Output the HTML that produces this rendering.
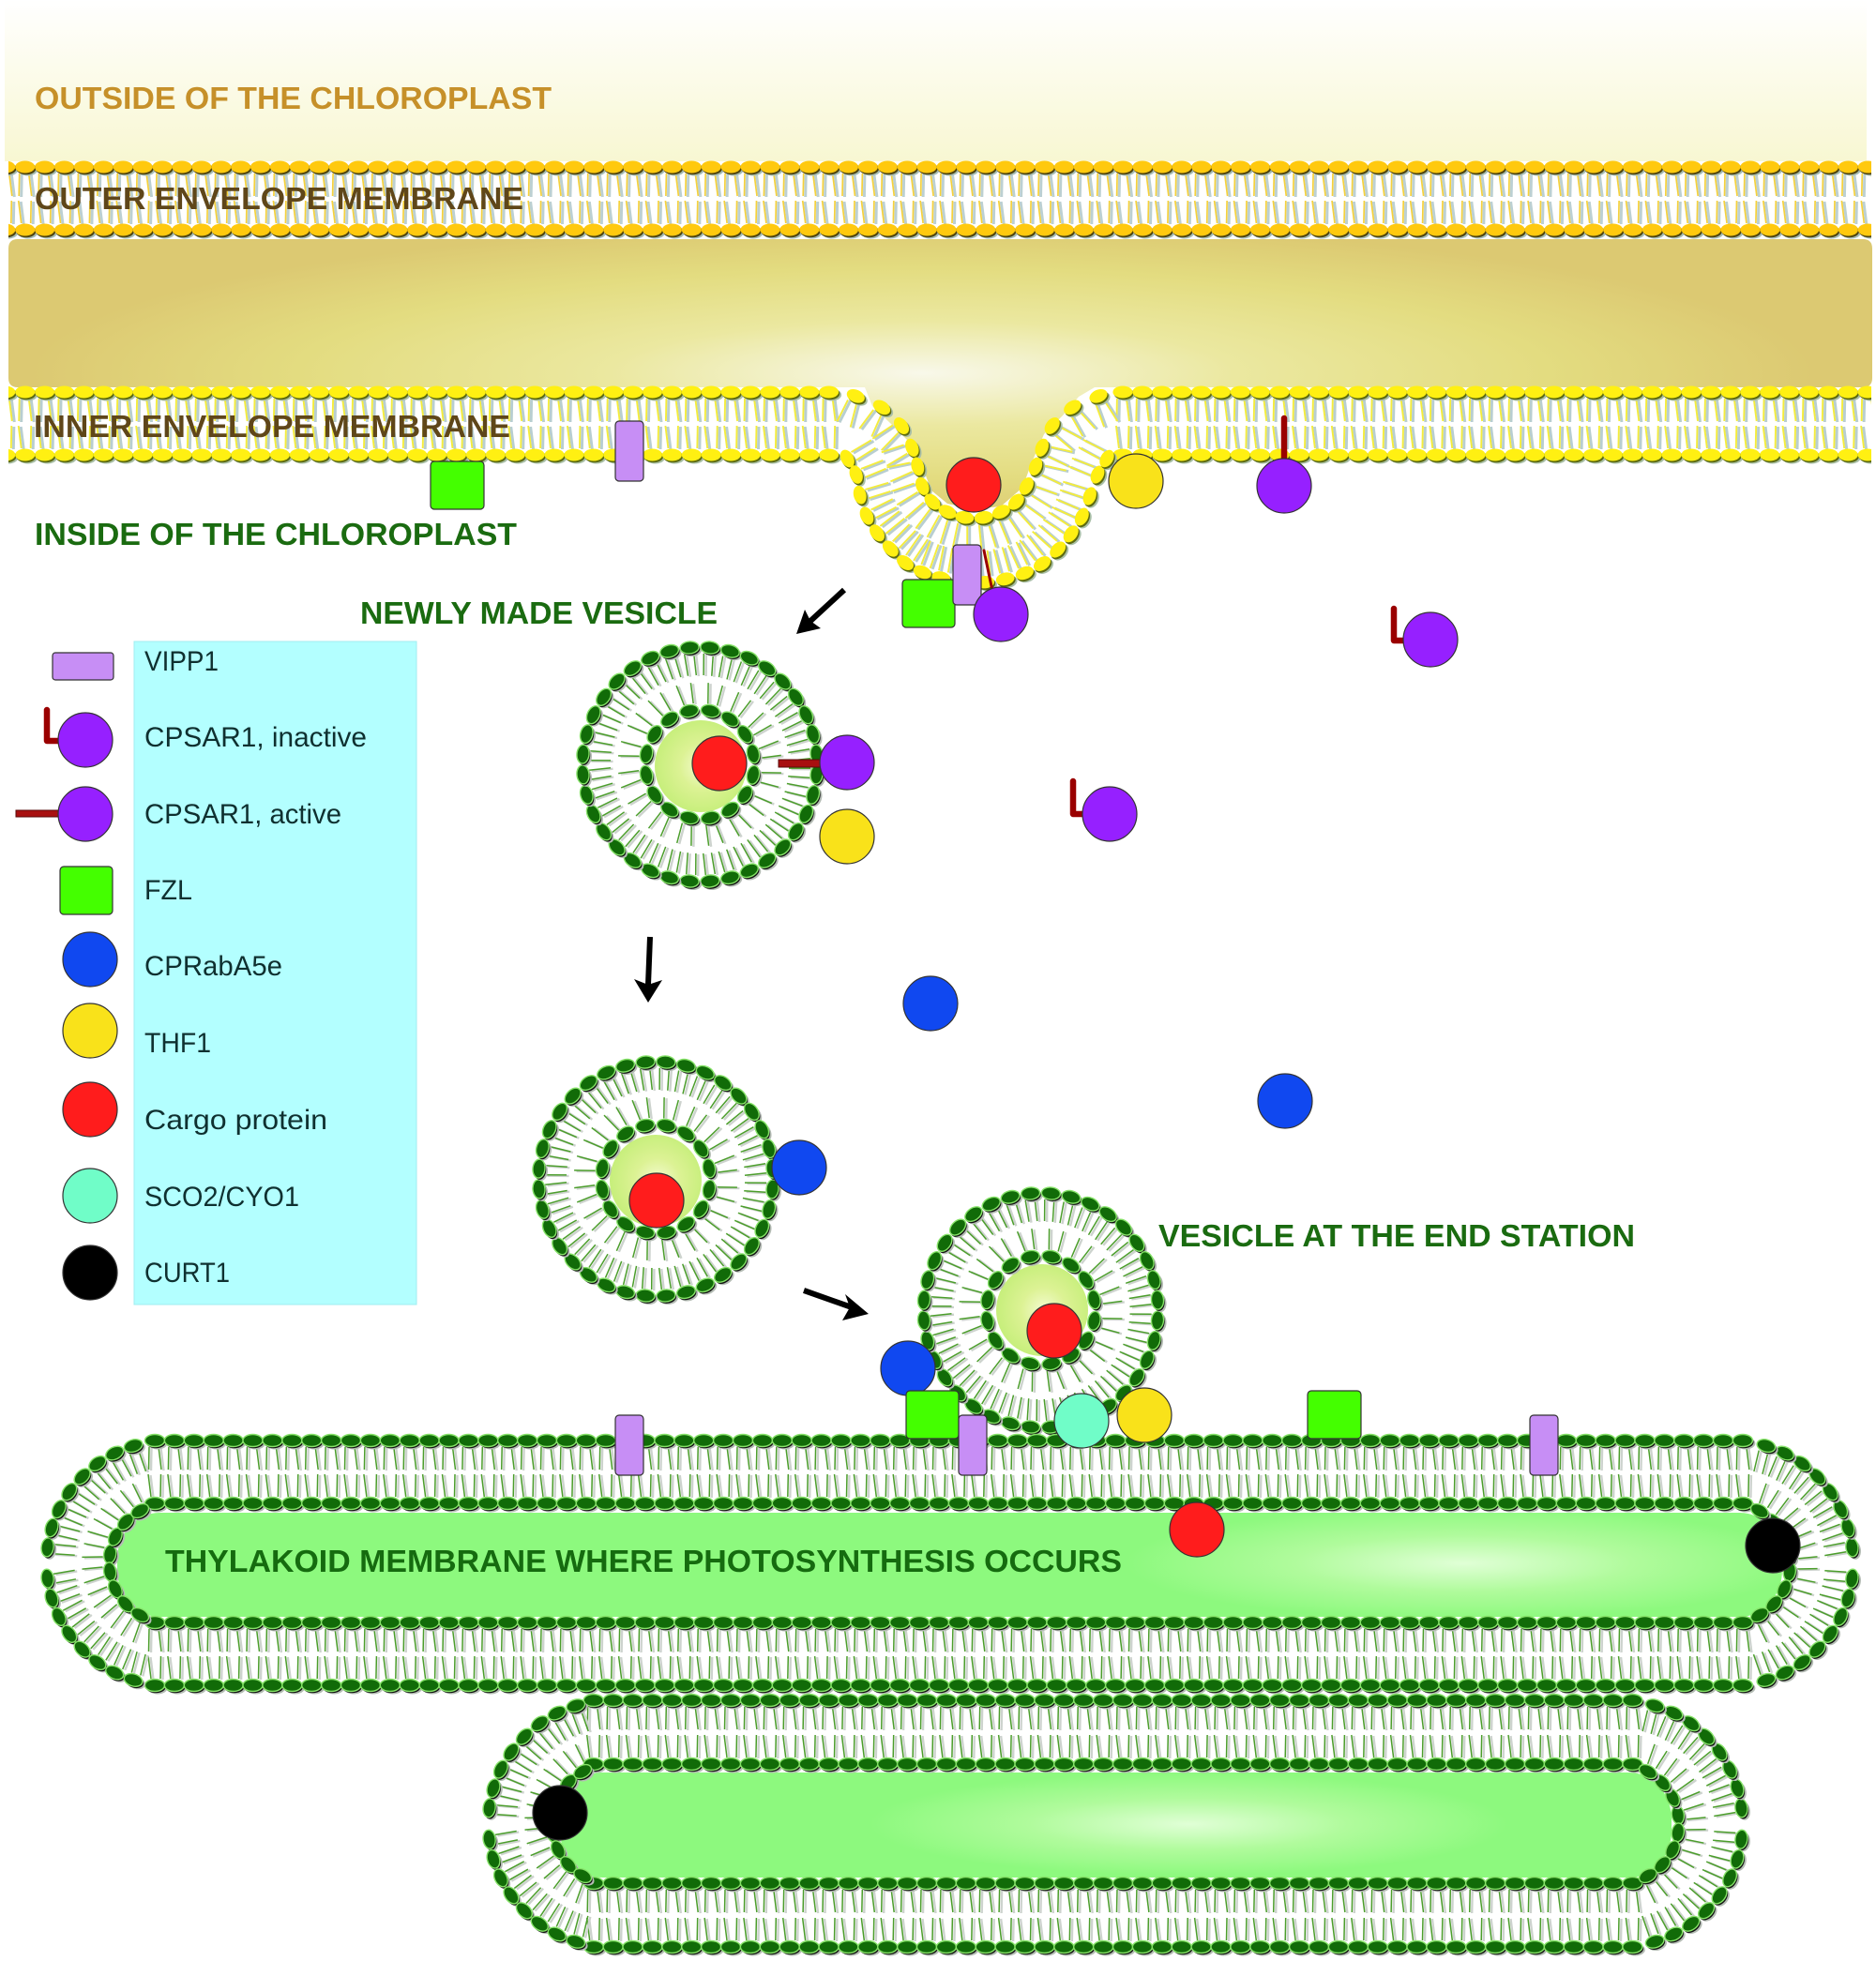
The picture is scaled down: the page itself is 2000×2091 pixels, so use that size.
<!DOCTYPE html>
<html><head><meta charset="utf-8"><title>Chloroplast vesicle transport</title>
<style>html,body{margin:0;padding:0;background:#fff}svg{display:block}text{font-family:"Liberation Sans",sans-serif}.b{font-weight:bold;font-size:33px}.l{font-size:30px;fill:#0f3030}</style></head>
<body>
<svg id="s" xmlns="http://www.w3.org/2000/svg" width="2000" height="2091" viewBox="0 0 2000 2091">
<defs>
<linearGradient id="out" x1="0" y1="0" x2="0" y2="1"><stop offset="0" stop-color="#fff"/><stop offset="1" stop-color="#f8f7d2"/></linearGradient>
<radialGradient id="band" gradientUnits="userSpaceOnUse" cx="0" cy="0" r="1" gradientTransform="translate(983,398) scale(950,160)"><stop offset="0" stop-color="#f8f8ea"/><stop offset=".35" stop-color="#ebe8a0"/><stop offset=".7" stop-color="#e3dc80"/><stop offset="1" stop-color="#dcc972"/></radialGradient>
<radialGradient id="th1" gradientUnits="userSpaceOnUse" cx="0" cy="0" r="1" gradientTransform="translate(1560,1667) scale(360,60)"><stop offset="0" stop-color="#e0ffd6"/><stop offset=".5" stop-color="#b0fb9c"/><stop offset="1" stop-color="#8df97e"/></radialGradient>
<radialGradient id="th2" gradientUnits="userSpaceOnUse" cx="0" cy="0" r="1" gradientTransform="translate(1267,1945) scale(340,55)"><stop offset="0" stop-color="#e0ffd6"/><stop offset=".5" stop-color="#b0fb9c"/><stop offset="1" stop-color="#8df97e"/></radialGradient>
<radialGradient id="ve" cx=".52" cy=".5" r=".55"><stop offset="0" stop-color="#f4fbd0"/><stop offset=".45" stop-color="#dcf294"/><stop offset="1" stop-color="#c4ee78"/></radialGradient>
<clipPath id="strip"><rect x="9" y="170" width="1986" height="330"/></clipPath>
</defs>
<rect x="5" y="0" width="1985" height="172" fill="url(#out)"/>
<path fill="url(#band)" d="M19 255H1986Q1996 255 1996 265V403Q1996 413 1986 413H1167L1150 423L1133 443L1113 463L1100 493L1090 520L1067 540L1037 543L1010 537L993 523L983 497L968 470L950 452L930 433L922 413H19Q9 413 9 403V265Q9 255 19 255Z"/>
<rect x="125" y="1613" width="1775" height="111" rx="45" ry="50" fill="url(#th1)"/>
<rect x="597" y="1890" width="1185" height="112" rx="45" ry="50" fill="url(#th2)"/>
<circle cx="747" cy="817" r="49" fill="url(#ve)"/>
<circle cx="699" cy="1259" r="49" fill="url(#ve)"/>
<circle cx="1111" cy="1397" r="49" fill="url(#ve)"/>
<g id="env" clip-path="url(#strip)"></g>
<g id="lip"></g>

<g stroke="#333" stroke-width="1.2">
<rect x="143" y="684" width="301" height="707" fill="#b3ffff" stroke="#a0eef0" stroke-width="1"/>
<g fill="#ff1c1c">
<circle cx="1038" cy="517" r="29"/><circle cx="767" cy="814" r="29"/><circle cx="700" cy="1280" r="29"/><circle cx="1124" cy="1419" r="29"/><circle cx="1276" cy="1631" r="29"/><circle cx="96" cy="1183" r="29"/>
</g>
<g fill="#f9e21a">
<circle cx="1211" cy="513" r="29"/><circle cx="903" cy="892" r="29"/><circle cx="1220" cy="1509" r="29"/><circle cx="96" cy="1099" r="29"/>
</g>
<g fill="#1048f0">
<circle cx="992" cy="1070" r="29"/><circle cx="1370" cy="1174" r="29"/><circle cx="852" cy="1245" r="29"/><circle cx="968" cy="1459" r="29"/><circle cx="96" cy="1023" r="29"/>
</g>
<g fill="#44ff00">
<rect x="459" y="492" width="57" height="51" rx="4"/><rect x="962" y="618" width="56" height="51" rx="4"/><rect x="966" y="1483" width="56" height="51" rx="4"/><rect x="1394" y="1483" width="57" height="51" rx="4"/><rect x="64" y="924" width="56" height="51" rx="4"/>
</g>
<g fill="#c78ef5">
<rect x="656" y="449" width="30" height="64" rx="4"/><rect x="1016" y="581" width="30" height="64" rx="4"/><rect x="656" y="1509" width="30" height="64" rx="4"/><rect x="1022" y="1509" width="30" height="64" rx="4"/><rect x="1631" y="1509" width="30" height="64" rx="4"/><rect x="56" y="696" width="65" height="29" rx="3"/>
</g>
<g fill="none" stroke="#9a0000" stroke-width="6.5" stroke-linejoin="round" stroke-linecap="round">
<path d="M1369 446V492"/><path d="M1049 587L1058 630" stroke-width="3"/><path d="M1486 649V683H1504"/><path d="M1144 833V868H1162"/><path d="M50 757V790H68"/>
</g>
<rect x="830" y="810" width="46" height="8" fill="#a81010" stroke="#5a0a0a" stroke-width="1"/>
<rect x="17" y="864" width="50" height="7" fill="#a81010" stroke="#5a0a0a" stroke-width="1"/>
<g fill="#9620ff">
<circle cx="1369" cy="518" r="29"/><circle cx="1067" cy="655" r="29"/><circle cx="1525" cy="682" r="29"/><circle cx="1183" cy="868" r="29"/><circle cx="903" cy="813" r="29"/><circle cx="91" cy="789" r="29"/><circle cx="91" cy="868" r="29"/>
</g>
<circle cx="1153" cy="1515" r="29" fill="#70fdc8"/><circle cx="96" cy="1275" r="29" fill="#70fdc8"/>
<g fill="#000"><circle cx="1890" cy="1648" r="29"/><circle cx="597" cy="1933" r="29"/><circle cx="96" cy="1357" r="29"/></g>
</g>

<g stroke="#000" stroke-width="6" fill="none"><path d="M900 629L862 664"/><path d="M693 999L691 1050"/><path d="M857 1376L908 1394"/></g>
<g fill="#000">
<path d="M849 676L858 650L864 662L875 670Z"/>
<path d="M691 1069L676 1044L691 1050L706 1045Z"/>
<path d="M926 1401L898 1408L906 1394L901 1380Z"/>
</g>

<text class="b" x="37" y="116" fill="#c69029" textLength="551" lengthAdjust="spacingAndGlyphs">OUTSIDE OF THE CHLOROPLAST</text>
<text class="b" x="37" y="223" fill="#5f4619" textLength="521" lengthAdjust="spacingAndGlyphs">OUTER ENVELOPE MEMBRANE</text>
<text class="b" x="36" y="466" fill="#5f4619" textLength="508" lengthAdjust="spacingAndGlyphs">INNER ENVELOPE MEMBRANE</text>
<text class="b" x="37" y="581" fill="#1a6b10" textLength="514" lengthAdjust="spacingAndGlyphs">INSIDE OF THE CHLOROPLAST</text>
<text class="b" x="384" y="665" fill="#1a6b10" textLength="381" lengthAdjust="spacingAndGlyphs">NEWLY MADE VESICLE</text>
<text class="b" x="1235" y="1329" fill="#1a6b10" textLength="508" lengthAdjust="spacingAndGlyphs">VESICLE AT THE END STATION</text>
<text class="b" x="176" y="1676" fill="#156b0f" textLength="1020" lengthAdjust="spacingAndGlyphs">THYLAKOID MEMBRANE WHERE PHOTOSYNTHESIS OCCURS</text>

<text class="l" x="154" y="715" textLength="79" lengthAdjust="spacingAndGlyphs">VIPP1</text>
<text class="l" x="154" y="796" textLength="237" lengthAdjust="spacingAndGlyphs">CPSAR1, inactive</text>
<text class="l" x="154" y="878" textLength="210" lengthAdjust="spacingAndGlyphs">CPSAR1, active</text>
<text class="l" x="154" y="959" textLength="51" lengthAdjust="spacingAndGlyphs">FZL</text>
<text class="l" x="154" y="1040" textLength="147" lengthAdjust="spacingAndGlyphs">CPRabA5e</text>
<text class="l" x="154" y="1122" textLength="71" lengthAdjust="spacingAndGlyphs">THF1</text>
<text class="l" x="154" y="1204" textLength="195" lengthAdjust="spacingAndGlyphs">Cargo protein</text>
<text class="l" x="154" y="1286" textLength="165" lengthAdjust="spacingAndGlyphs">SCO2/CYO1</text>
<text class="l" x="154" y="1367" textLength="91" lengthAdjust="spacingAndGlyphs">CURT1</text>
</svg>
<script>
(function(){
var OUT={h:'#ffc90e',d:'#4f4510',g:'#a6bdb6',t:'#f5d13c',ts:'#bcd0d2',e:'none',tw:1.7,sw:3},
    INN={h:'#fff012',d:'#5d6a10',g:'#a9bfa8',t:'#f4ec3c',ts:'#b8ced0',e:'none',tw:1.9,sw:3},
    GRN={h:'#116b08',d:'#111',g:'#b4bcb4',t:'#4c9e2c',ts:'#cdd3ce',e:'#86e268',tw:1.5,sw:2.4};
var tails='',heads='';
function n(v){return v.toFixed(1)}
function lip(x,y,nx,ny,L,S,m,rx,ry){
  rx=rx||10.5;ry=ry||6.5;m=m||1;
  var tx=-ny,ty=nx,a=Math.atan2(ty,tx)*180/Math.PI;
  var seg=[[-4,-7*m],[6,6.5*m]];
  for(var k=0;k<2;k++){
    var s=seg[k][0],e0=seg[k][1];
    var x1=x+nx*7+tx*s,y1=y+ny*7+ty*s,x2=x+nx*L+tx*e0,y2=y+ny*L+ty*e0;
    tails+='<line x1="'+n(x1+2.5)+'" y1="'+n(y1+1)+'" x2="'+n(x2+2.5)+'" y2="'+n(y2+1)+'" stroke="'+S.ts+'" stroke-width="'+S.sw+'"/>';
    tails+='<line x1="'+n(x1)+'" y1="'+n(y1)+'" x2="'+n(x2)+'" y2="'+n(y2)+'" stroke="'+S.t+'" stroke-width="'+S.tw+'"/>';
  }
  var t=' rx="'+rx+'" ry="'+ry+'" transform="rotate('+n(a)+' ';
  function e(dx,dy,f,extra){var cx=n(x+dx),cy=n(y+dy);return '<ellipse cx="'+cx+'" cy="'+cy+'"'+t+cx+' '+cy+')" fill="'+f+'"'+(extra||'')+'/>'}
  heads+=e(3,3,S.g)+e(1.2,1.8,S.d)+e(0,0,S.h,S.e!='none'?' stroke="'+S.e+'" stroke-width="1.4"':'');
}
function straight(y1,y2,x0,x1,S){
  for(var x=x0;x<=x1;x+=20.9){
    lip(x,y1,0,1,31,S);lip(x,y2,0,-1,31,S);
  }
}
// envelope membranes (clipped at page edges)
straight(178,245,5.8,2005,OUT);
straight(418,485,5.8,885,INN);
straight(418,485,1196.9,2005,INN);
document.getElementById('env').innerHTML=tails+heads;
tails='';heads='';
// dip
var za=[[187,127],[270,163],[333,222],[367,292],[385,352],[400,415],[432,465],[480,497],[535,515],[596,515],[652,497],[700,465],[733,415],[762,352],[782,292],[815,222],[880,163],[963,127]],
    zb=[[160,327],[188,378],[200,443],[222,510],[255,565],[298,615],[345,660],[400,690],[460,708],[530,720],[600,722],[665,712],[727,693],[783,663],[833,618],[875,568],[910,513],[935,447],[960,378],[990,327]];
function pg(l){return l.map(function(p){return [850+p[0]/3,380+p[1]/3]})}
var A=pg(za),B=pg(zb);
function dip(P,Q,m){
  P.forEach(function(p,i){
    var best=1e9,q=null;
    Q.forEach(function(r){var d=Math.hypot(r[0]-p[0],r[1]-p[1]);if(d<best){best=d;q=r}});
    var a=P[Math.max(i-1,0)],b=P[Math.min(i+1,P.length-1)];
    var tx=b[0]-a[0],ty=b[1]-a[1],mm=Math.hypot(tx,ty);tx/=mm;ty/=mm;
    var nx=-ty,ny=tx;
    if(nx*(q[0]-p[0])+ny*(q[1]-p[1])<0){nx=-nx;ny=-ny}
    lip(p[0],p[1],nx,ny,Math.max(best/2-1,24),INN,m,10,6.7);
  });
}
dip(A,B,1.15);dip(B,A,.7);
// vesicles
function vesicle(cx,cy){
  var i,a,c,s,N=36;
  for(i=0;i<N;i++){a=(i+.5)/N*2*Math.PI;c=Math.cos(a);s=Math.sin(a);lip(cx+125*c,cy+125*s,-c,-s,30,GRN,.65,10,6.5)}
  N=16;
  for(i=0;i<N;i++){a=(i+.5)/N*2*Math.PI;c=Math.cos(a);s=Math.sin(a);lip(cx+58*c,cy+58*s,c,s,29,GRN,1.15,10,6.5)}
}
vesicle(746,815);vesicle(699,1257);vesicle(1109.5,1397);
// thylakoid stadiums
function stadium(x0,xEnd,L,R,cy,RO,RI){
  var x,i,k,a,c,s;
  for(x=x0;x<=xEnd;x+=20.9){
    lip(x,cy-RO,0,1,31,GRN);lip(x,cy+RO,0,-1,31,GRN);
    lip(x,cy-RI,0,-1,31,GRN);lip(x,cy+RI,0,1,31,GRN);
  }
  function arc(xc,sgn){
    for(k=-1;k<=1;k+=2){
      for(i=0;i<8;i++){a=(7.3+9.4*i)*Math.PI/180*k;c=Math.cos(a)*sgn;s=Math.sin(a);lip(xc+RO*c,cy+RO*s,-c,-s,30,GRN,.7,10,6.5)}
      for(i=0;i<4;i++){a=(8.5+17.5*i)*Math.PI/180*k;c=Math.cos(a)*sgn;s=Math.sin(a);lip(xc+RI*c,cy+RI*s,c,s,29,GRN,1.1,10,6.5)}
    }
  }
  arc(L,-1);arc(R,1);
}
stadium(165,1861,180,1845,1666.5,130.5,63.5);
stadium(632.7,1742,652,1726,1944.5,131.5,63.5);
document.getElementById('lip').innerHTML=tails+heads;
})();
</script>
</body></html>
